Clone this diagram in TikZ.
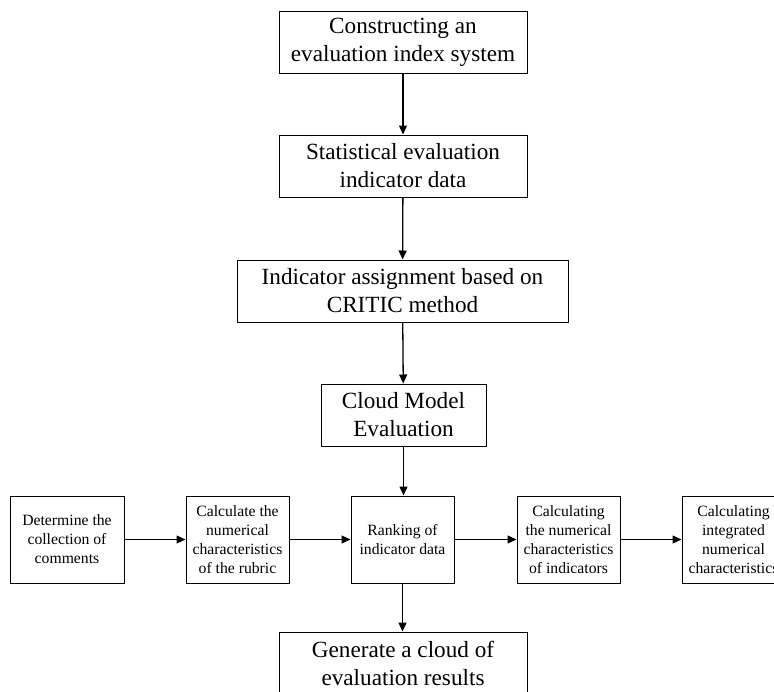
\documentclass[tikz,border=0pt]{standalone}
\usepackage{fontspec}
\setmainfont{Liberation Serif}
\usetikzlibrary{arrows.meta}
\tikzset{
  bigbox/.style={draw=black, line width=1pt, inner sep=0pt, align=center, minimum height=62pt, font=\fontsize{23.2}{28}\selectfont},
  smallbox/.style={draw=black, line width=1pt, inner sep=0pt, align=center, minimum width=103pt, minimum height=87pt, font=\fontsize{15.7}{19}\selectfont},
  flow/.style={line width=1.3pt, -{Triangle[length=9pt,width=8pt]}}
}
\begin{document}
\begin{tikzpicture}[x=1pt,y=-1pt]
\useasboundingbox (0,0) rectangle (774,691);
\clip (0,0) rectangle (774,691);
\node[bigbox, minimum width=248pt] (b1) at (403,42) {Constructing an\\evaluation index system};
\node[bigbox, minimum width=248pt] (b2) at (403,166) {Statistical evaluation\\indicator data};
\node[bigbox, minimum width=331pt] (b3) at (402.5,291) {Indicator assignment based on\\CRITIC method};
\node[bigbox, minimum width=165pt] (b4) at (403.5,415) {Cloud Model\\Evaluation};
\node[smallbox, minimum width=114pt] (ra) at (67,539.5) {Determine the\\collection of\\comments};
\node[smallbox] (rb) at (237.5,539.5) {Calculate the\\numerical\\characteristics\\of the rubric};
\node[smallbox] (rc) at (402.5,539.5) {Ranking of\\indicator data};
\node[smallbox] (rd) at (568.5,539.5) {Calculating\\the numerical\\characteristics\\of indicators};
\node[smallbox] (re) at (733.5,539.5) {Calculating\\integrated\\numerical\\characteristics};
\node[bigbox, minimum width=248pt] (b5) at (403,663) {Generate a cloud of\\evaluation results};
\draw[flow] (b1) -- (b2);
\draw[flow] (b2) -- (b3);
\draw[flow] (b3) -- (b4);
\draw[flow] (b4.south) -- (b4.south |- rc.north);
\draw[flow] (ra) -- (rb);
\draw[flow] (rb) -- (rc);
\draw[flow] (rc) -- (rd);
\draw[flow] (rd) -- (re);
\draw[flow] (rc.south) -- (rc.south |- b5.north);
\end{tikzpicture}
\end{document}
